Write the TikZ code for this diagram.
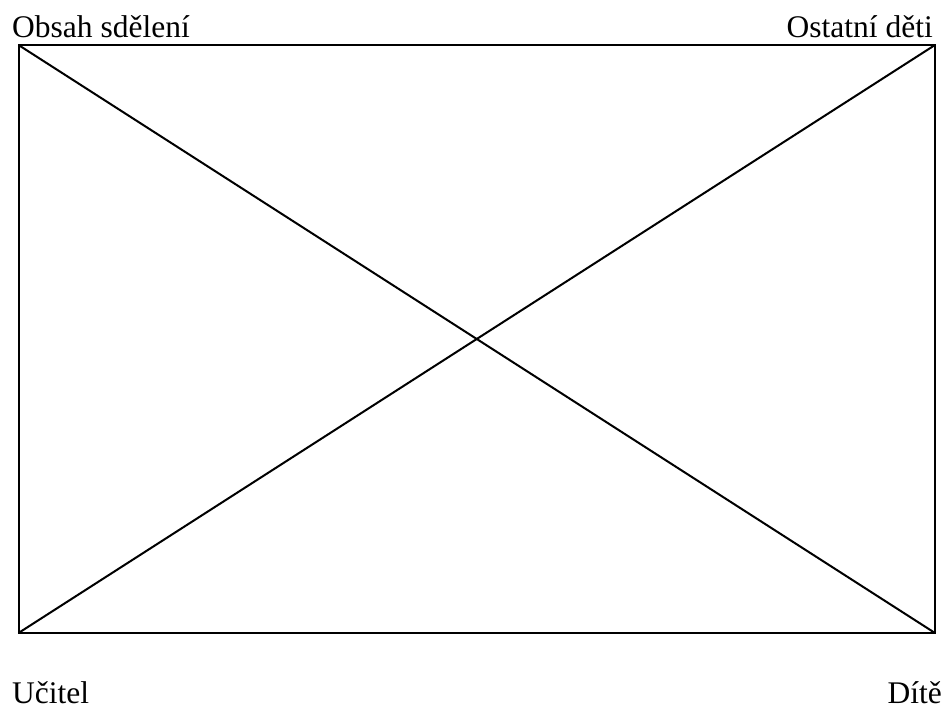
\documentclass[tikz,border=0pt]{standalone}
\usepackage{fontspec}
\setmainfont{Liberation Serif}
\begin{document}
\begin{tikzpicture}[x=1pt,y=1pt,
  lbl/.style={inner sep=0pt,font=\fontsize{31.5}{36}\selectfont},
  edge/.style={line width=2pt}]
\useasboundingbox (0,0) rectangle (949,709);
\coordinate (tl) at (18.5,664);
\coordinate (tr) at (935,664);
\coordinate (bl) at (18.5,76);
\coordinate (br) at (935,76);
\draw[edge] (tl) -- (tr) -- (br) -- (bl) -- cycle;
\draw[edge] (tl) -- (br);
\draw[edge] (tr) -- (bl);
\node[lbl,anchor=base west] (obsah) at (12,671) {Obsah sdělení};
\node[lbl,anchor=base east] (ostatni) at (933,671) {Ostatní děti};
\node[lbl,anchor=base west] (ucitel) at (12,6) {Učitel};
\node[lbl,anchor=base east] (dite) at (942,6) {Dítě};
\end{tikzpicture}
\end{document}
